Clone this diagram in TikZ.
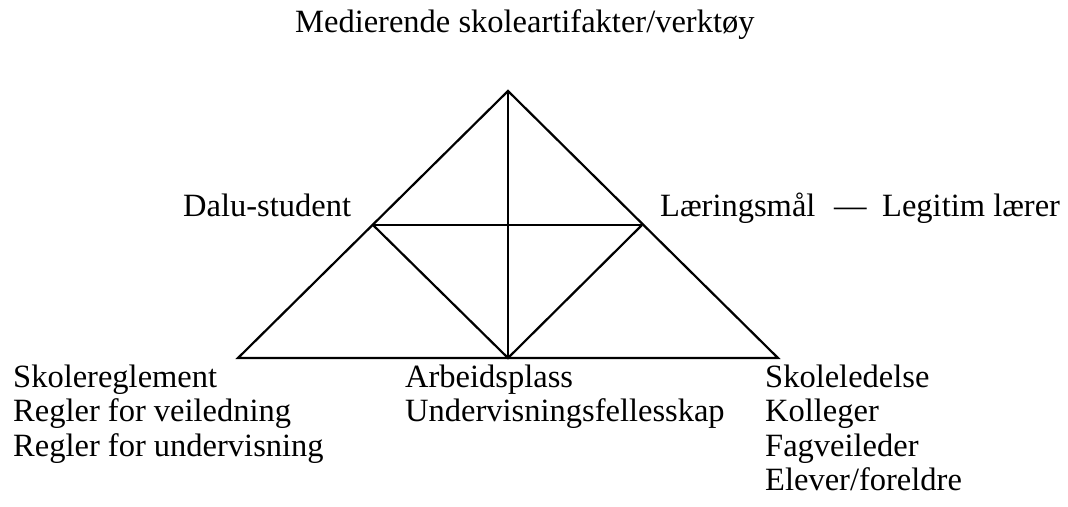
\documentclass[tikz,border=0pt]{standalone}
\usepackage{fontspec}
\setmainfont{Liberation Serif}
\begin{document}
\begin{tikzpicture}[x=1pt,y=-1pt,
  lbl/.style={anchor=base west,inner sep=0pt,font=\fontsize{32.5}{34.5}\selectfont},
  edge/.style={line width=2.2pt,line join=miter}]
\useasboundingbox (0,0) rectangle (1068,506);
% corners
\coordinate (top) at (508,91);
\coordinate (bl) at (238,358);
\coordinate (br) at (778,358);
\coordinate (bm) at (508,358);
\coordinate (ml) at (373,225);
\coordinate (mr) at (642,225);
\draw[edge] (top) -- (bl) -- (br) -- cycle;
\draw[edge] (top) -- (bm);
\draw[edge] (ml) -- (mr);
\draw[edge] (ml) -- (bm) -- (mr);
% labels
\node[lbl] (tool) at (295,32) {Medierende skoleartifakter/verktøy};
\node[lbl] (subj) at (183,216) {Dalu-student};
\node[lbl] (obj) at (660,216) {Læringsmål};
\node[lbl] (dash) at (834,216) {—};
\node[lbl] (legit) at (882,216) {Legitim lærer};
\node[lbl] (r1) at (13,387) {Skolereglement};
\node[lbl] (r2) at (13,421.5) {Regler for veiledning};
\node[lbl] (r3) at (13,456) {Regler for undervisning};
\node[lbl] (c1) at (405,387) {Arbeidsplass};
\node[lbl] (c2) at (405,421.5) {Undervisningsfellesskap};
\node[lbl] (d1) at (765,387) {Skoleledelse};
\node[lbl] (d2) at (765,421.5) {Kolleger};
\node[lbl] (d3) at (765,456) {Fagveileder};
\node[lbl] (d4) at (765,490) {Elever/foreldre};
\end{tikzpicture}
\end{document}
